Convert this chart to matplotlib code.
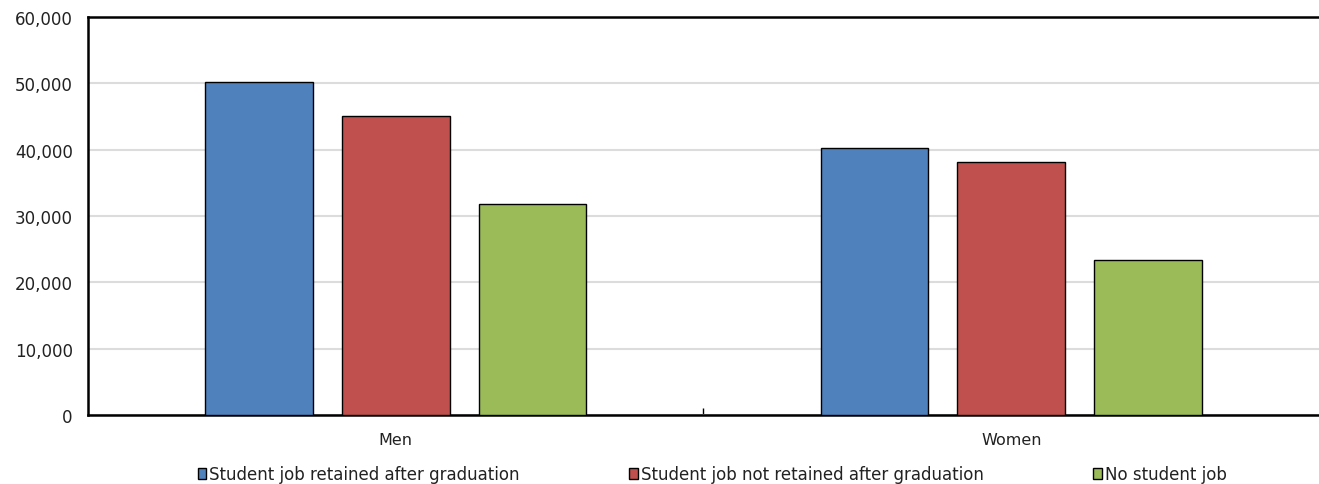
import matplotlib.pyplot as plt
import numpy as np

# earnings by sex and student job status
groups = ["Men", "Women"]
series = ["Student job retained after graduation",
          "Student job not retained after graduation",
          "No student job"]
retained = [50200, 40200]
not_retained = [45100, 38100]
no_job = [31800, 23400]
colors = ["#4F81BD", "#C0504D", "#9BBB59"]

plt.rcParams['font.family'] = ['DejaVu Sans']

fig = plt.figure(figsize=(13.19, 4.85), dpi=100)
ax = fig.add_axes([0.0667, 0.1423, 0.9333, 0.8207])

x = np.arange(len(groups))
width = 0.175
step = 0.222
for i, (vals, c, name) in enumerate(zip([retained, not_retained, no_job], colors, series)):
    ax.bar(x + (i - 1) * step, vals, width, color=c, edgecolor="black",
           linewidth=1.0, label=name, zorder=3)

ax.set_xlim(-0.5, 1.5)
ax.set_ylim(0, 60000)
ax.set_yticks(np.arange(0, 60001, 10000))
ax.set_yticklabels([f"{v:,}" for v in range(0, 60001, 10000)])
ax.yaxis.grid(True, color="#dcdcdc", linewidth=1.5, zorder=0)
ax.set_axisbelow(True)

# category labels sit under a single separator tick
ax.set_xticks(x)
ax.set_xticklabels(groups)
ax.set_xticks([0.5], minor=True)
ax.tick_params(axis="x", which="major", length=0, pad=12, labelsize=11.5, labelcolor="#222222")
ax.tick_params(axis="x", which="minor", direction="in", length=5, width=1, color="black")
ax.tick_params(axis="y", length=0, pad=11, labelsize=12, labelcolor="#222222")

for side in ["left", "top", "bottom"]:
    ax.spines[side].set_linewidth(1.8)
    ax.spines[side].set_color("black")
ax.spines["right"].set_visible(False)

fig.legend(loc="center", bbox_to_anchor=(0.540, 0.02), ncol=3, frameon=False,
           fontsize=12, handlelength=0.5, handleheight=0.6, handletextpad=0.2,
           columnspacing=6.57, labelcolor="#222222")

fig.savefig("out.png", dpi=100)
